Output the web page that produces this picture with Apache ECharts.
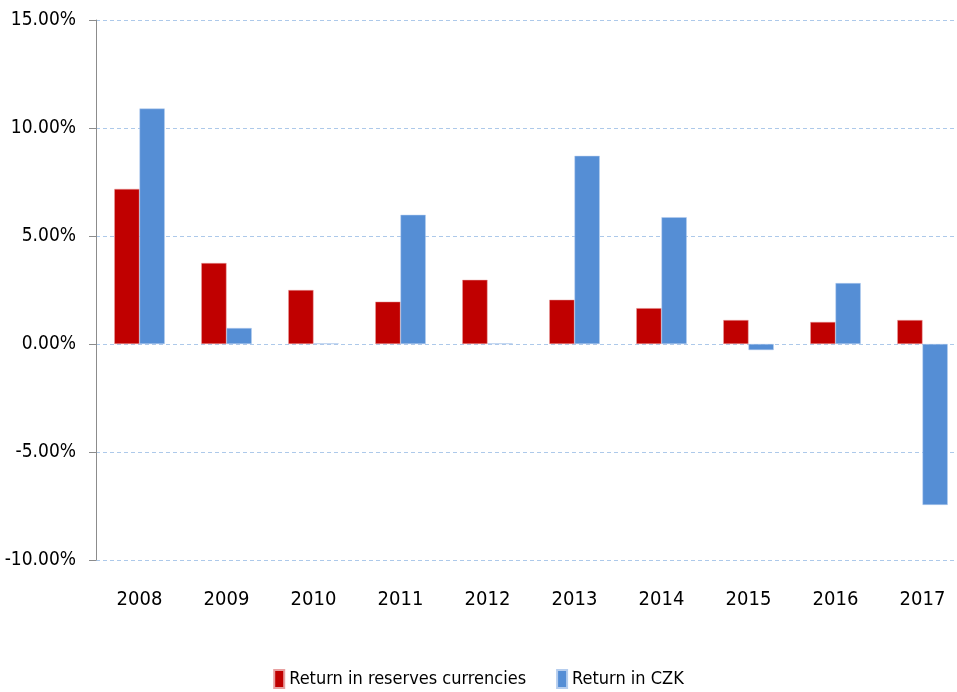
<!DOCTYPE html>
<html>
<head>
<meta charset="utf-8">
<script src="https://cdn.jsdelivr.net/npm/echarts@6/dist/echarts.min.js"></script>
<style>html,body{margin:0;padding:0;background:#fff;}#c{width:957px;height:692px;}</style>
</head>
<body>
<div id="c"></div>
<script>
var categories = ['2008','2009','2010','2011','2012','2013','2014','2015','2016','2017'];
var returnReserves = [7.18, 3.75, 2.50, 1.96, 2.97, 2.05, 1.66, 1.11, 1.02, 1.11];
var returnCZK = [10.90, 0.74, 0.03, 5.98, 0.03, 8.71, 5.87, -0.28, 2.82, -7.45];
var seriesNames = ['Return in reserves currencies', 'Return in CZK'];

var FONT = '"Liberation Sans Narrow", "DejaVu Sans Condensed", "Liberation Sans", sans-serif';
var chart = echarts.init(document.getElementById('c'), null, {renderer: 'canvas'});
chart.setOption({
  animation: false,
  backgroundColor: '#fff',
  grid: {left: 96, top: 20, width: 870, height: 540, containLabel: false, outerBoundsMode: 'none'},
  legend: {
    top: 664, left: 'center',
    itemWidth: 10, itemHeight: 18, itemGap: 30,
    icon: 'rect',
    textStyle: {fontFamily: FONT, fontSize: 18, color: '#000'},
    data: seriesNames
  },
  xAxis: {
    type: 'category',
    data: categories,
    position: 'bottom',
    axisLine: {show: false, onZero: false},
    axisTick: {show: false},
    axisLabel: {fontFamily: FONT, fontSize: 20, color: '#000', margin: 30}
  },
  yAxis: {
    type: 'value',
    min: -10, max: 15, interval: 5,
    axisLine: {show: true, lineStyle: {color: '#8c8c8c', width: 1}},
    axisTick: {show: true, length: 7, lineStyle: {color: '#8c8c8c'}},
    axisLabel: {fontFamily: FONT, fontSize: 19, color: '#000', margin: 20,
      formatter: function (v) { return v.toFixed(2) + '%'; }},
    splitLine: {show: true, lineStyle: {color: '#adc9ea', type: [4, 3], width: 1}}
  },
  series: [
    {name: seriesNames[0], type: 'bar', data: returnReserves, barGap: '0%', barCategoryGap: '42%',
     itemStyle: {color: '#C00000', borderColor: '#e8a0a0', borderWidth: 0.5}},
    {name: seriesNames[1], type: 'bar', data: returnCZK, barGap: '0%', barCategoryGap: '42%',
     itemStyle: {color: '#558ED5', borderColor: '#b5cdee', borderWidth: 0.5}}
  ]
});
</script>
</body>
</html>
